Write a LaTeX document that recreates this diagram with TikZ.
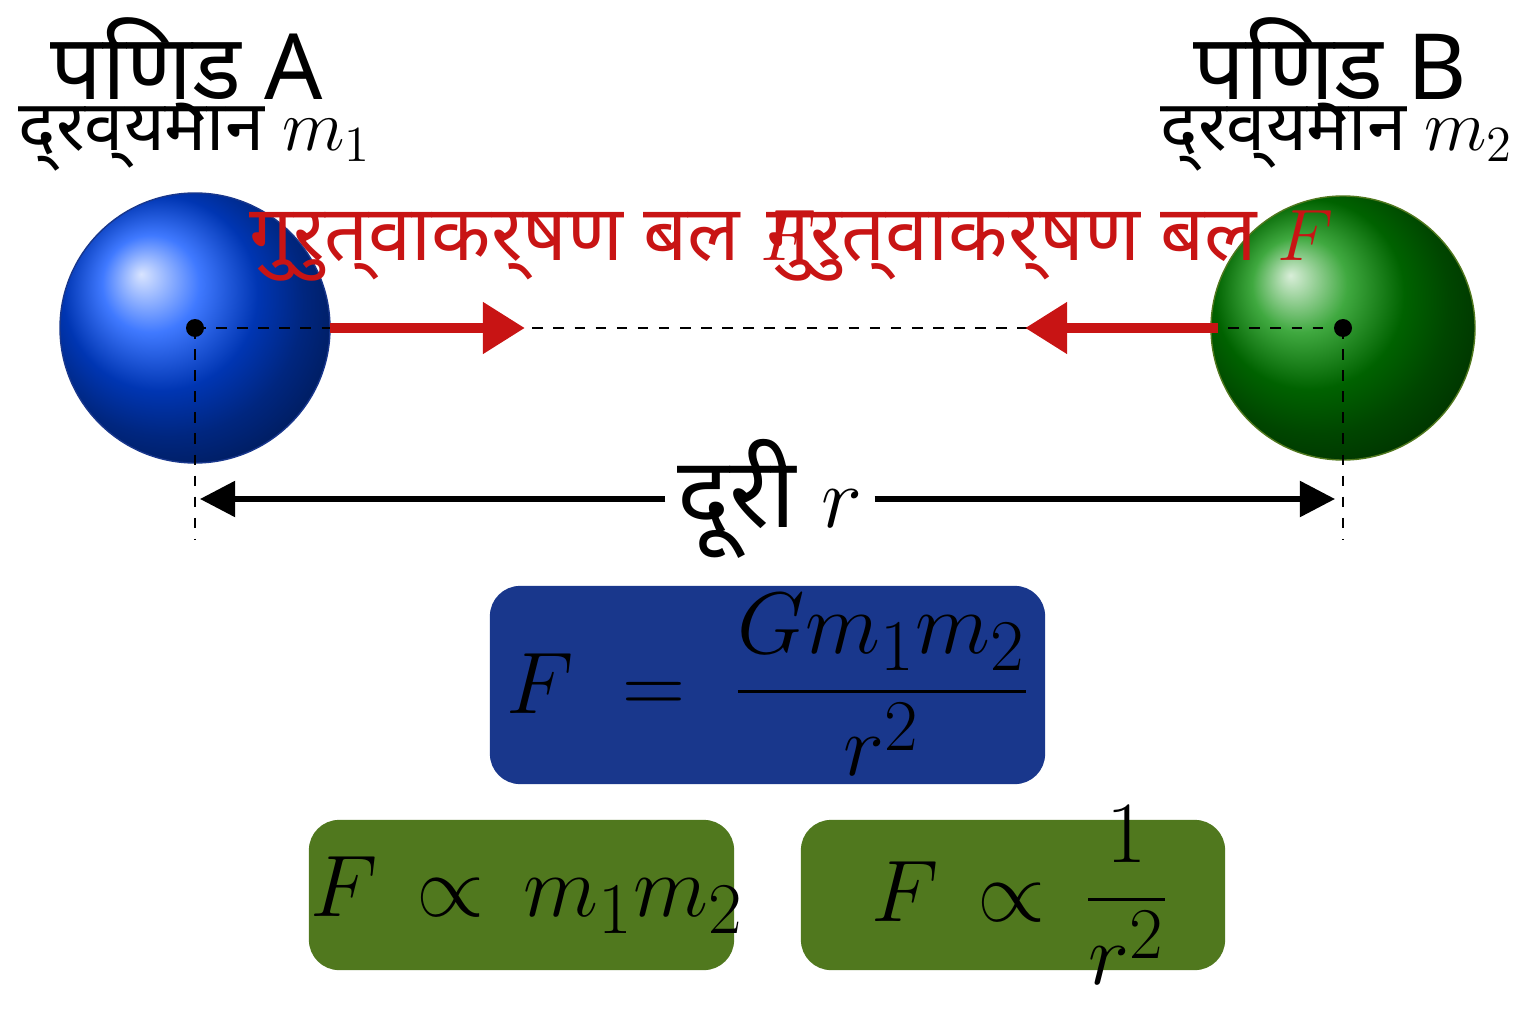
\documentclass[tikz,border=0pt]{standalone}
\usepackage{amsmath}
\usepackage{fontspec}
\setmainfont{Noto Sans}
\usetikzlibrary{arrows.meta,calc}
\definecolor{forcered}{RGB}{200,20,20}
\definecolor{boxblue}{RGB}{25,55,140}
\definecolor{boxgreen}{RGB}{80,120,30}
\tikzset{
    guide/.style = {dashed, thin},
    force/.style = {forcered, line width=3pt, -{Triangle[length=12pt,width=14pt]}},
    lawbox/.style = {rounded corners=8pt, line width=1.2pt, fill=white}
}

\begin{document}
\begin{tikzpicture}
    \useasboundingbox (0,0) rectangle (15.36,10.24);

    % bodies
    \shade[ball color=blue!70!cyan] (1.95,6.96) circle (1.35);
    \draw[boxblue] (1.95,6.96) circle (1.35);
    \shade[ball color=green!55!black] (13.43,6.96) circle (1.32);
    \draw[boxgreen] (13.43,6.96) circle (1.32);
    \coordinate (cA) at (1.95,6.96);
    \coordinate (cB) at (13.43,6.96);

    % centre line and guides
    \draw[guide] (cA) -- (cB);
    \draw[guide] (cA) -- (1.95,4.85);
    \draw[guide] (cB) -- (13.43,4.85);
    \fill (cA) circle (0.09);
    \fill (cB) circle (0.09);

    % forces
    \draw[force] (3.30,6.96) -- (5.25,6.96);
    \draw[force] (12.18,6.96) -- (10.25,6.96);
    \node[forcered, font=\fontsize{22}{26}\selectfont\bfseries] (fA) at (5.33,7.78) {गुरुत्वाकर्षण बल $F$};
    \node[forcered, font=\fontsize{22}{26}\selectfont\bfseries] (fB) at (10.5,7.78) {गुरुत्वाकर्षण बल $F$};

    % labels
    \node[font=\fontsize{26}{30}\selectfont] (tA) at (1.87,9.54) {पिण्ड A};
    \node[font=\fontsize{20}{24}\selectfont] (mA) at (1.95,8.85) {द्रव्यमान $m_1$};
    \node[font=\fontsize{26}{30}\selectfont] (tB) at (13.3,9.54) {पिण्ड B};
    \node[font=\fontsize{20}{24}\selectfont] (mB) at (13.37,8.85) {द्रव्यमान $m_2$};

    % distance
    \node[font=\fontsize{28}{32}\selectfont, minimum width=1.9cm] (dist) at (7.7,5.25) {दूरी $r$};
    \coordinate (dL) at (2.0,5.25);
    \coordinate (dR) at (13.35,5.25);
    \draw[line width=1.5pt, -{Triangle[length=10pt,width=10pt]}] (dist.west) -- (dL);
    \draw[line width=1.5pt, -{Triangle[length=10pt,width=10pt]}] (dist.east) -- (dR);

    % formulas
    \draw[lawbox, boxblue] (4.92,2.42) rectangle (10.43,4.36);
    \node[font=\fontsize{30}{36}\selectfont] (law) at (7.68,3.39) {$F\;=\;\dfrac{Gm_1m_2}{r^2}$};
    \draw[lawbox, boxgreen] (3.11,0.56) rectangle (7.32,2.02);
    \node[font=\fontsize{28}{34}\selectfont] (pm) at (5.27,1.29) {$F\,\propto\,m_1m_2$};
    \draw[lawbox, boxgreen] (8.03,0.56) rectangle (12.23,2.02);
    \node[font=\fontsize{28}{34}\selectfont] (pr) at (10.2,1.29) {$F\,\propto\,\dfrac{1}{r^2}$};
\end{tikzpicture}
\end{document}
